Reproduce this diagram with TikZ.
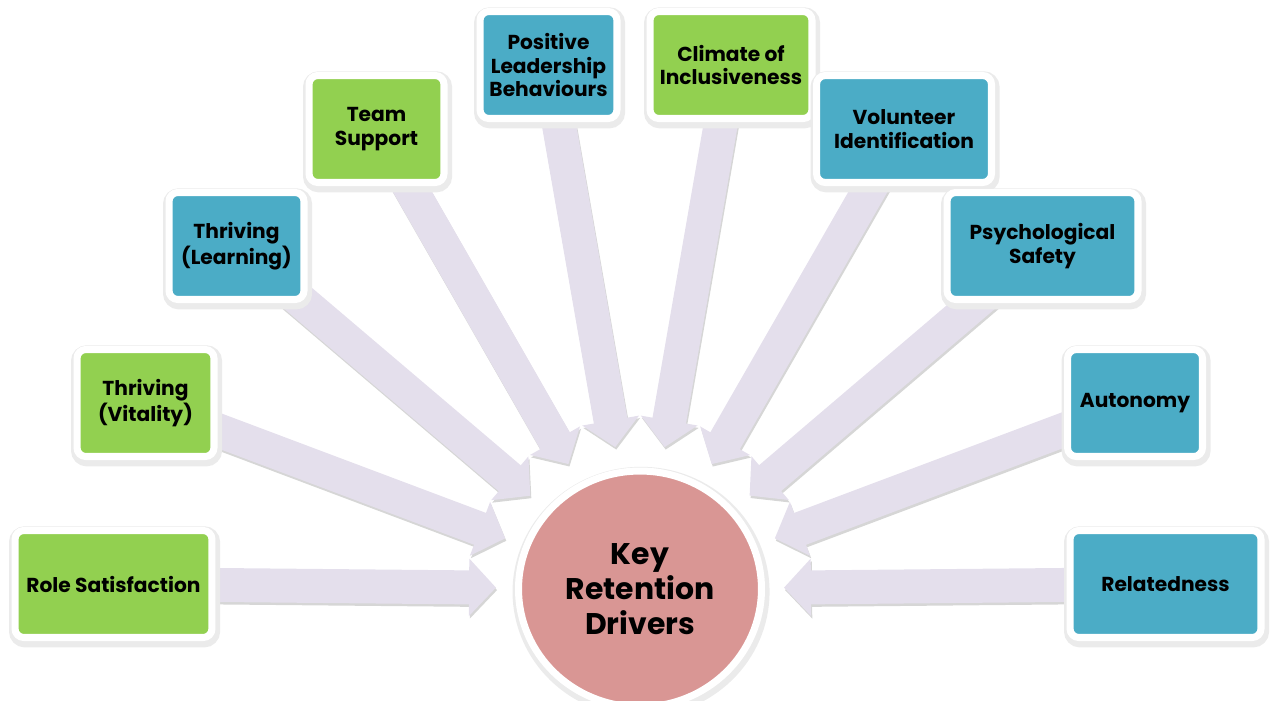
\documentclass[tikz,border=0pt]{standalone}
\usepackage{fontspec}
\setmainfont{Poppins}
\usetikzlibrary{arrows.meta,calc,shapes.geometric,backgrounds}

\definecolor{leafgreen}{HTML}{92D050}
\definecolor{tealblue}{HTML}{4BACC6}
\definecolor{rosepink}{HTML}{D99694}
\definecolor{lavender}{HTML}{E4DFEC}

\begin{document}
\begin{tikzpicture}[x=0.02cm,y=-0.02cm,
   rim/.style={draw=white,line width=4pt,
      preaction={draw=black!22,line width=6pt,transform canvas={shift={(0.4pt,-1.2pt)}}},
      preaction={draw=black!8,line width=8pt,transform canvas={shift={(0.6pt,-1.6pt)}}}},
   box/.style={rectangle,rounded corners=5pt,rim,
      minimum height=2.14cm,align=center,inner sep=2pt,
      font=\bfseries\fontsize{11.5}{13.5}\selectfont},
   greenbox/.style={box,fill=leafgreen},
   bluebox/.style={box,fill=tealblue},
   pointer/.style={draw=lavender,line width=0.68cm,-{Triangle[length=0.54cm,width=1.12cm]}},
   pointershade/.style={draw=black!16,line width=0.68cm,-{Triangle[length=0.54cm,width=1.12cm]},
      transform canvas={shift={(0.6pt,-1.4pt)}}}]
   \useasboundingbox (0,0) rectangle (1271,700);

   % centre
   \node[ellipse,fill=rosepink,rim,minimum width=4.86cm,minimum height=4.72cm,align=center,
      inner sep=0pt,font=\bfseries\fontsize{17}{20}\selectfont]
      (key) at (640,589) {Key\\Retention\\Drivers};

   % drivers, left to right round the centre
   \node[greenbox,minimum width=3.94cm] (role)  at (113.5,584) {Role Satisfaction};
   \node[greenbox,minimum width=2.74cm] (vital) at (145.5,403) {Thriving\\(Vitality)};
   \node[bluebox, minimum width=2.70cm] (learn) at (236.5,246) {Thriving\\(Learning)};
   \node[greenbox,minimum width=2.70cm] (team)  at (376.5,129) {Team\\Support};
   \node[bluebox, minimum width=2.74cm] (lead)  at (548.5,65)  {Positive\\Leadership\\Behaviours};
   \node[greenbox,minimum width=3.24cm] (clim)  at (731,65)    {Climate of\\Inclusiveness};
   \node[bluebox, minimum width=3.50cm] (volu)  at (904,129)   {Volunteer\\Identification};
   \node[bluebox, minimum width=3.82cm] (psych) at (1042.5,246) {Psychological\\Safety};
   \node[bluebox, minimum width=2.70cm] (auto)  at (1135,403)  {Autonomy};
   \node[bluebox, minimum width=3.82cm] (rel)   at (1165.5,584) {Relatedness};

   % block arrows pointing in at the centre
   \begin{scope}[on background layer]
      \foreach \n in {role,vital,learn,team,lead,clim,volu,psych,auto,rel}
         \draw[pointershade] (\n.center) -- ($(key)!2.88cm!(\n)$);
      \foreach \n in {role,vital,learn,team,lead,clim,volu,psych,auto,rel}
         \draw[pointer] (\n.center) -- ($(key)!2.88cm!(\n)$);
   \end{scope}
\end{tikzpicture}
\end{document}
